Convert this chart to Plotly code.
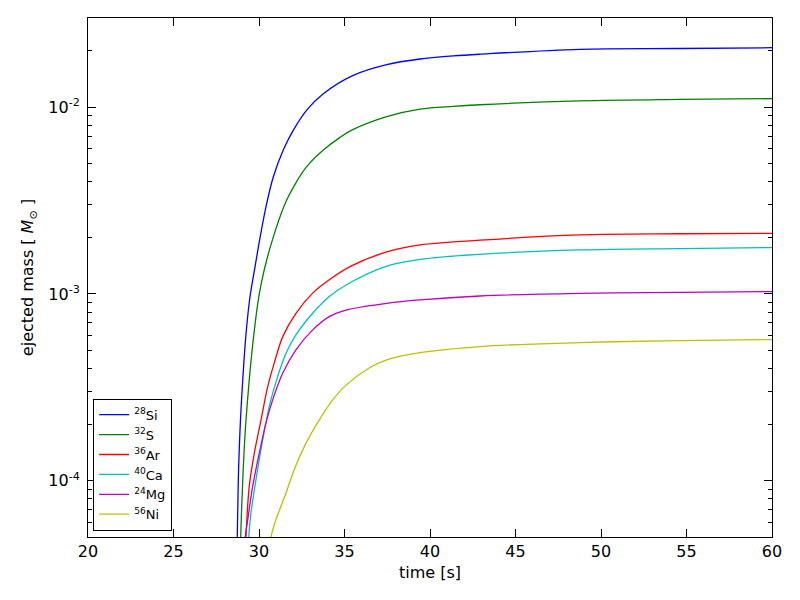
import plotly.graph_objects as go

# ---- data (time [s], ejected mass [Msun]) ----
t_si = [28.66, 28.73, 28.79, 28.89, 29.05, 29.24, 29.47, 29.77, 30.06, 30.45, 30.84, 31.42, 32.01, 32.79, 33.76, 35.51, 37.47, 39.42, 41.36, 42.92, 48.77, 54.62, 60.0]
m_si = [2.5e-5, 5.0e-5, 1.01e-4, 1.87e-4, 3.47e-4, 6.1e-4, 9.6e-4, 1.40e-3, 2.00e-3, 3.05e-3, 4.24e-3, 5.89e-3, 7.53e-3, 9.64e-3, 1.18e-2, 1.48e-2, 1.69e-2, 1.81e-2, 1.88e-2, 1.92e-2, 2.04e-2, 2.06e-2, 2.08e-2]

t_s = [28.87, 28.93, 29.05, 29.20, 29.43, 29.73, 29.96, 30.16, 30.45, 30.84, 31.23, 31.62, 32.20, 32.79, 33.76, 34.74, 35.51, 37.47, 39.42, 41.36, 42.92, 48.77, 54.62, 60.0]
m_s = [2.5e-5, 5.0e-5, 1.01e-4, 1.87e-4, 3.47e-4, 6.42e-4, 9.3e-4, 1.17e-3, 1.52e-3, 2.02e-3, 2.59e-3, 3.18e-3, 3.99e-3, 4.80e-3, 5.89e-3, 6.89e-3, 7.6e-3, 8.9e-3, 9.75e-3, 1.01e-2, 1.03e-2, 1.08e-2, 1.10e-2, 1.11e-2]

t_ar = [29.14, 29.24, 29.43, 29.73, 30.12, 30.51, 30.89, 31.39, 32.16, 33.14, 34.11, 35.32, 37.47, 39.42, 42.92, 48.77, 54.62, 60.0]
m_ar = [2.5e-5, 5.0e-5, 9.33e-5, 1.41e-4, 2.12e-4, 3.19e-4, 4.26e-4, 5.91e-4, 7.88e-4, 1.01e-3, 1.19e-3, 1.40e-3, 1.68e-3, 1.83e-3, 1.94e-3, 2.07e-3, 2.10e-3, 2.11e-3]

t_ca = [29.30, 29.40, 29.53, 29.82, 30.22, 30.60, 31.09, 31.58, 32.16, 33.14, 34.11, 35.09, 37.47, 39.42, 42.92, 48.77, 54.62, 60.0]
m_ca = [2.5e-5, 5.0e-5, 6.72e-5, 1.01e-4, 1.66e-4, 2.50e-4, 3.61e-4, 4.82e-4, 6.04e-4, 7.88e-4, 9.68e-4, 1.117e-3, 1.41e-3, 1.53e-3, 1.63e-3, 1.72e-3, 1.75e-3, 1.77e-3]

t_mg = [29.10, 29.20, 29.34, 29.63, 30.02, 30.41, 30.80, 31.39, 32.16, 33.14, 34.11, 35.09, 37.47, 39.42, 42.92, 48.77, 54.62, 60.0]
m_mg = [2.5e-5, 5.0e-5, 6.18e-5, 9.33e-5, 1.41e-4, 2.04e-4, 2.71e-4, 3.77e-4, 5.02e-4, 6.42e-4, 7.56e-4, 8.20e-4, 8.91e-4, 9.29e-4, 9.75e-4, 1.008e-3, 1.02e-3, 1.03e-3]

t_ni = [30.45, 30.70, 30.99, 31.58, 32.06, 32.75, 33.53, 34.31, 35.09, 36.49, 37.47, 39.42, 42.92, 48.77, 54.62, 60.0]
m_ni = [3.5e-5, 5.0e-5, 6.18e-5, 8.59e-5, 1.15e-4, 1.59e-4, 2.12e-4, 2.71e-4, 3.25e-4, 4.04e-4, 4.44e-4, 4.85e-4, 5.23e-4, 5.49e-4, 5.63e-4, 5.70e-4]

names = ["<sup>28</sup>Si", "<sup>32</sup>S", "<sup>36</sup>Ar", "<sup>40</sup>Ca", "<sup>24</sup>Mg", "<sup>56</sup>Ni"]
colors = ["#0000ff", "#008000", "#ff0000", "#00bfbf", "#bf00bf", "#bfbf00"]
series = [(t_si, m_si), (t_s, m_s), (t_ar, m_ar), (t_ca, m_ca), (t_mg, m_mg), (t_ni, m_ni)]

y_tickvals = [1e-4, 1e-3, 1e-2]
y_ticktext = ["10<sup>-4</sup>", "10<sup>-3</sup>", "10<sup>-2</sup>"]
x_tickvals = [20, 25, 30, 35, 40, 45, 50, 55, 60]

fig = go.Figure()
for (t, m), name, c in zip(series, names, colors):
    fig.add_trace(go.Scatter(x=t, y=m, mode="lines", name=name,
                             line=dict(color=c, width=1.3, shape="spline", smoothing=1.0)))

axis_common = dict(showline=True, linecolor="black", linewidth=1, mirror="allticks",
                   ticks="inside", tickcolor="black", ticklen=8, tickwidth=1,
                   showgrid=False, zeroline=False,
                   tickfont=dict(family="DejaVu Sans", size=16, color="black"))

# page body adds an 8px offset, margins compensate so the plot box sits at 88..772 x 18..537
fig.update_layout(
    width=800, height=600,
    margin=dict(l=80, r=36, t=10, b=71),
    paper_bgcolor="white", plot_bgcolor="white",
    font=dict(family="DejaVu Sans", color="black"),
    xaxis=dict(range=[20, 60], tickvals=x_tickvals,
               title=dict(text="time [s]", font=dict(size=16), standoff=6),
               **axis_common),
    yaxis=dict(type="log", range=[-4.30103, -1.5229],
               tickvals=y_tickvals, ticktext=y_ticktext, ticklabelstandoff=4,
               minor=dict(ticks="inside", ticklen=4, tickcolor="black", dtick="D1", showgrid=False),
               title=dict(text="ejected mass [ <i>M</i><sub>⊙</sub> ]", font=dict(size=16), standoff=10),
               **axis_common),
    showlegend=True,
    legend=dict(x=0.0075, y=0.012, xanchor="left", yanchor="bottom",
                bordercolor="black", borderwidth=1, bgcolor="white",
                font=dict(family="DejaVu Sans", size=13, color="black"),
                itemwidth=30, tracegroupgap=0),
)

fig.write_html("out.html")
